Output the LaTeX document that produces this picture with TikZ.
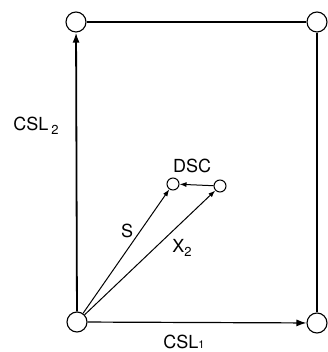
\documentclass[tikz,border=0pt]{standalone}
\usepackage{fontspec}
\setmainfont{TeX Gyre Heros}
\usetikzlibrary{arrows.meta}

\newcommand{\lowsub}[2][-3.5pt]{\raisebox{#1}{\fontsize{13}{13}\selectfont #2}}

\tikzset{
  bignode/.style={draw, circle, line width=1.1pt, minimum size=20pt, inner sep=0pt},
  smallnode/.style={draw, circle, line width=1pt, minimum size=12pt, inner sep=0pt},
  vec/.style={-{Latex[length=10pt,width=7pt]}, line width=1.2pt},
  smallvec/.style={-{Latex[length=7pt,width=5pt]}, line width=1pt},
  lbl/.style={font=\fontsize{18}{18}\selectfont, inner sep=0pt}
}

\begin{document}
\begin{tikzpicture}[x=1pt, y=1pt]
    \useasboundingbox (0,0) rectangle (328,352);

    % Corner nodes
    \node[bignode] (bl) at (77,30) {};
    \node[bignode] (tl) at (76,330) {};
    \node[bignode] (tr) at (317,330) {};
    \node[bignode] (br) at (317,29) {};

    % Inner nodes
    \node[smallnode] (s) at (173,168) {};
    \node[smallnode] (d) at (220,166) {};

    % Frame
    \draw[vec, line width=1.8pt] (bl) -- (tl);
    \draw[vec] (bl) -- (br);
    \draw[line width=1.3pt] (tl) -- (tr);
    \draw[line width=1.3pt] (tr) -- (br);

    % Vectors
    \draw[smallvec] (bl) -- (s);
    \draw[smallvec] (bl) -- (d);
    \draw[smallvec] (d) -- (s);

    % Labels
    \node[lbl] (csltwo) at (36,226) {CSL\,\lowsub{2}};
    \node[lbl] (cslone) at (184,10.5) {CSL\lowsub[0pt]{\fontsize{11}{11}\selectfont 1}};
    \node[lbl] (slbl) at (127,121) {S};
    \node[lbl] (xlbl) at (182,104) {X\lowsub{2}};
    \node[lbl] (dsc) at (192,186) {DSC};
\end{tikzpicture}
\end{document}
